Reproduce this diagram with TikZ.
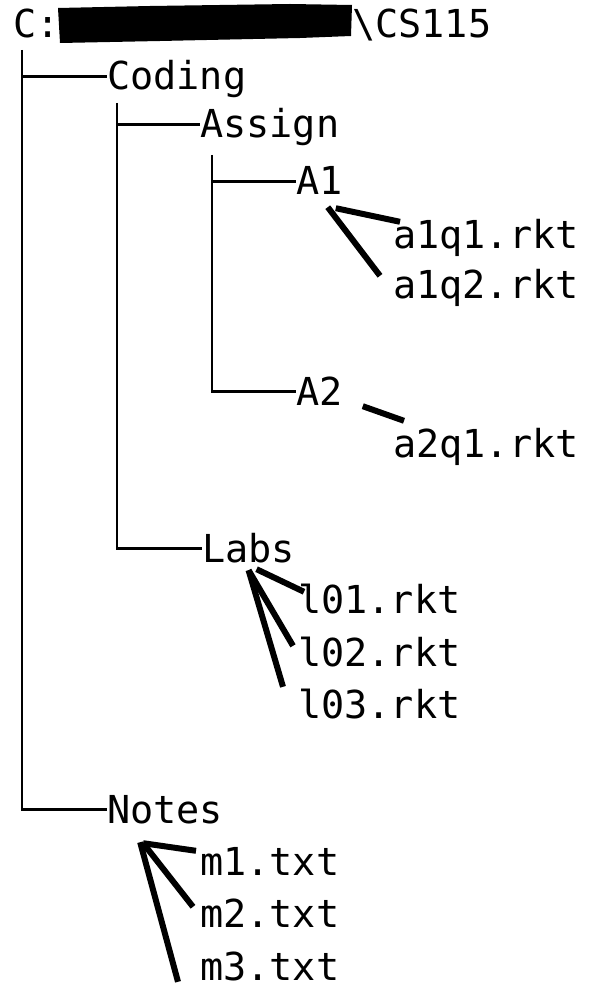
\documentclass[tikz,border=0pt]{standalone}
\usepackage{fontspec}
\setmonofont{DejaVu Sans Mono}
\usepackage{tikz}
\usetikzlibrary{%
    calc,
    positioning
}

\begin{document}
\begin{tikzpicture}[
      x=1pt, y=1pt,
      entry/.style={anchor=base west, inner sep=0pt,
                    text height=27pt, text depth=0pt,
                    font=\ttfamily\fontsize{38.5}{40}\selectfont},
      tree/.style={line width=2.5pt},
      leaf/.style={line width=6pt}
    ]
      \useasboundingbox (0, 0) rectangle (589, -984);

      % root path
      \node[entry] at (13, -38) (drive) {C:};
      \fill (58, -8) -- (150, -6) -- (290, -4) -- (352, -5)
        -- (351, -36) -- (300, -38) -- (160, -41) -- (60, -43) -- cycle;
      \node[entry] at (352, -38) (course) {\textbackslash CS115};

      % folders
      \node[entry] at (107, -90) (coding) {Coding};
      \node[entry] at (200, -138) (assign) {Assign};
      \node[entry] at (296, -195) (a1) {A1};
      \node[entry] at (296, -405) (a2) {A2};
      \node[entry] at (202, -562) (labs) {Labs};
      \node[entry] at (107, -823) (notes) {Notes};

      % files
      \node[entry] at (393, -248) (a1q1) {a1q1.rkt};
      \node[entry] at (393, -298) (a1q2) {a1q2.rkt};
      \node[entry] at (393, -457) (a2q1) {a2q1.rkt};

      \node[entry] at (298, -613) (l01) {l01.rkt};
      \node[entry] at (298, -666) (l02) {l02.rkt};
      \node[entry] at (298, -718) (l03) {l03.rkt};

      \node[entry] at (200, -875) (m1) {m1.txt};
      \node[entry] at (200, -927) (m2) {m2.txt};
      \node[entry] at (200, -980) (m3) {m3.txt};

      % tree lines
      \coordinate (trunk) at (22, -50);
      \coordinate (codingtrunk) at (117, -103);
      \coordinate (assigntrunk) at (212, -155);

      \draw[tree] (trunk) |- (notes.west);
      \draw[tree] (trunk |- coding.west) -- (coding.west);

      \draw[tree] (codingtrunk) |- (labs.west);
      \draw[tree] (codingtrunk |- assign.west) -- (assign.west);

      \draw[tree] (assigntrunk) |- (a2.west);
      \draw[tree] (assigntrunk |- a1.west) -- (a1.west);

      % strokes to files
      \draw[leaf] ($(a1.south east) + (-7, -13)$)
        -- ($(a1q1.north west) + (7, -1)$);
      \draw[leaf] ($(a1.south east) + (-15, -12)$)
        -- ($(a1q2.north west) + (-13, -5)$);

      \draw[leaf] ($(a2.south east) + (20, -1)$)
        -- ($(a2q1.north west) + (11, 9)$);

      \draw[leaf] ($(labs.south) + (8, -7)$)
        -- ($(l01.north west) + (6, -6)$);
      \draw[leaf] ($(labs.south) + (0, -8)$)
        -- ($(l02.north west) + (-5, -7)$);
      \draw[leaf] ($(labs.south) + (0, -8)$)
        -- ($(l03.north west) + (-15, 4)$);

      \draw[leaf] ($(notes.south) + (-22, -20)$)
        -- ($(m1.north west) + (-4, -3)$);
      \draw[leaf] ($(notes.south) + (-22, -20)$)
        -- ($(m2.north west) + (-7, -7)$);
      \draw[leaf] ($(notes.south) + (-25, -19)$)
        -- ($(m3.north west) + (-22, -29)$);
    \end{tikzpicture}
\end{document}
